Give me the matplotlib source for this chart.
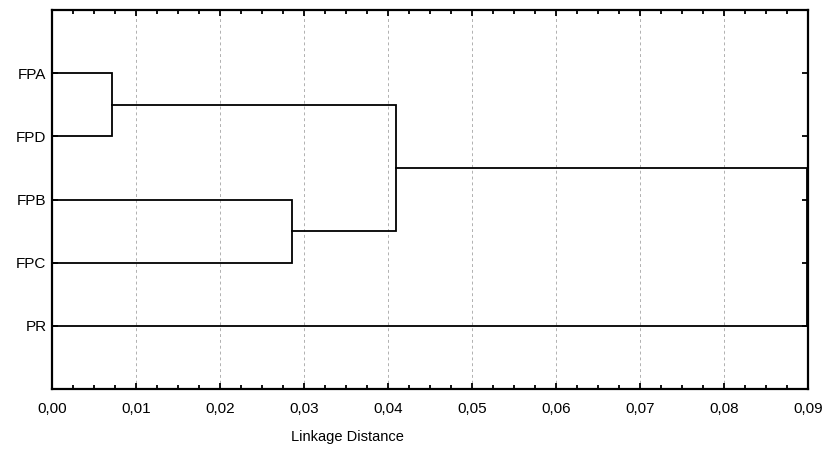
import matplotlib.pyplot as plt
from matplotlib.ticker import MultipleLocator, FuncFormatter

plt.rcParams['font.family'] = ['Liberation Sans', 'DejaVu Sans']

# leaves, top to bottom
labels = ['FPA', 'FPD', 'FPB', 'FPC', 'PR']

# merges: (left member, right member, linkage distance)
# members are leaf names or earlier cluster ids
merges = [
    ('FPA', 'FPD', 0.00715),
    ('FPB', 'FPC', 0.0286),
    ('c0', 'c1', 0.0409),
    ('c2', 'PR', 0.0899),
]


def draw_dendrogram(ax):
    pos = {name: i + 1 for i, name in enumerate(labels)}
    height = {name: 0.0 for name in labels}
    for k, (a, b, d) in enumerate(merges):
        ya, yb = pos[a], pos[b]
        ax.plot([height[a], d, d, height[b]], [ya, ya, yb, yb],
                color='black', lw=1.3, solid_joinstyle='miter')
        cid = 'c%d' % k
        pos[cid] = (ya + yb) / 2
        height[cid] = d


fig, ax = plt.subplots(figsize=(8.26, 4.53), dpi=100)
fig.subplots_adjust(left=0.063, right=0.978, bottom=0.141, top=0.978)

draw_dendrogram(ax)

ax.set_xlim(0, 0.09)
ax.set_ylim(6, 0)
ax.set_yticks(range(1, len(labels) + 1))
ax.set_yticklabels(labels)

ax.xaxis.set_major_locator(MultipleLocator(0.01))
ax.xaxis.set_minor_locator(MultipleLocator(0.0025))
ax.xaxis.set_major_formatter(FuncFormatter(lambda v, p: ('%.2f' % v).replace('.', ',')))

ax.grid(axis='x', which='major', color='#b0b0b0', ls=(0, (3, 3)), lw=0.7)
ax.set_axisbelow(True)

ax.tick_params(which='both', direction='in', top=True, right=True,
               labelsize=11, width=1.3, color='black')
ax.tick_params(which='major', length=4, pad=9)
ax.tick_params(which='minor', length=3)
ax.tick_params(axis='y', pad=4)

for s in ax.spines.values():
    s.set_linewidth(1.6)

ax.set_xlabel('Linkage Distance', fontsize=10.5)
ax.xaxis.set_label_coords(0.3915, -0.108)

fig.savefig('out.png', dpi=100)
